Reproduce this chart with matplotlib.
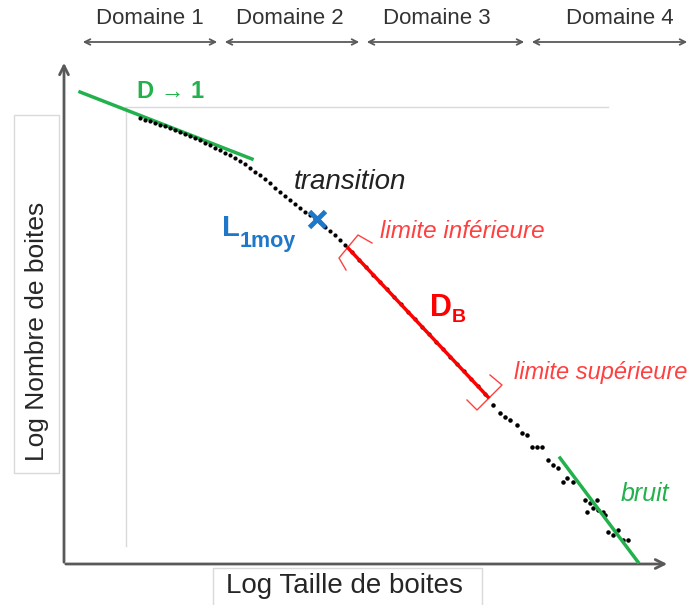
import matplotlib.pyplot as plt
from matplotlib.patches import Rectangle

plt.rcParams['font.family'] = ['Liberation Sans', 'DejaVu Sans']

# courbe de comptage (unites: pixels depuis l'origine des axes)
log_taille_1 = [76, 81, 86, 91, 96, 101, 106, 111, 116, 121, 126, 131, 136, 141,
                146, 151, 156, 161, 166, 171, 176, 181, 186, 191, 196, 201, 206,
                211, 216, 221, 226, 231, 236, 241, 246, 251, 256, 261, 266, 271,
                276, 281]
log_nombre_1 = [446, 444, 443, 441, 439, 438, 436, 434, 432, 430, 428, 426, 424, 421,
                419, 416, 414, 411, 409, 406, 403, 400, 396, 392, 389, 385, 381,
                376, 372, 368, 364, 360, 356, 352, 349, 345, 342, 337, 333, 329,
                324, 319]
log_taille_2 = [288, 295, 302, 309, 316, 323, 330, 337, 344, 351, 358, 365, 372,
                379, 386, 393, 400, 407, 414, 421]
log_nombre_2 = [312, 304, 297, 289, 282, 275, 267, 260, 252, 245, 237, 230, 222,
                215, 207, 200, 193, 185, 178, 170]
log_taille_3 = [429, 436, 441, 446, 453, 458, 463, 468, 473, 478, 484, 489, 494,
                499, 503, 509, 521, 526, 533, 529, 523, 534, 539, 541, 544, 549,
                554, 559, 564]
log_nombre_3 = [159, 151, 147, 144, 139, 131, 129, 117, 117, 117, 104, 99, 96,
                82, 86, 82, 64, 61, 64, 56, 52, 54, 52, 49, 32, 29, 34, 24, 24]

# droites d'ajustement
fit_d1_x = [16, 188]
fit_d1_y = [472, 405]
fit_db_x = [284, 424]
fit_db_y = [316, 167]
fit_bruit_x = [496, 574]
fit_bruit_y = [106, 2]
l1moy_x = [253]
l1moy_y = [345]

domaines = ['Domaine 1', 'Domaine 2', 'Domaine 3', 'Domaine 4']
dom_bornes = [(16, 156), (158, 298), (300, 463), (465, 626)]
dom_centres = [86, 226, 373, 556]

green = '#22b14c'
red = '#ff0000'
red_txt = '#ff4040'
blue = '#1f77c9'
gray = '#595959'

fig = plt.figure(figsize=(6.98, 6.05), dpi=100)
ax = fig.add_axes([0, 0, 1, 1])
ax.set_xlim(-64, 634)
ax.set_ylim(-41, 564)
ax.axis('off')

# lignes de repere
ax.plot([61, 544], [457, 457], color='#d9d9d9', lw=1)
ax.plot([62, 62], [457, 18], color='#d9d9d9', lw=1)

# axes
ax.annotate('', xy=(0, 504), xytext=(0, -1),
            arrowprops=dict(arrowstyle='->', color=gray, lw=2, mutation_scale=16))
ax.annotate('', xy=(606, 0), xytext=(-1, 0),
            arrowprops=dict(arrowstyle='->', color=gray, lw=2, mutation_scale=16))

# points
ax.scatter(log_taille_1, log_nombre_1, s=4, color='black', zorder=3)
ax.scatter(log_taille_2, log_nombre_2, s=4, color='black', zorder=3)
ax.scatter(log_taille_3, log_nombre_3, s=5, color='black', zorder=3)

ax.plot(fit_d1_x, fit_d1_y, color=green, lw=2.5, zorder=2)
ax.plot(fit_db_x, fit_db_y, color=red, lw=2.5, zorder=4)
ax.plot(fit_bruit_x, fit_bruit_y, color=green, lw=2.5, zorder=4)
ax.plot(l1moy_x, l1moy_y, 'x', color=blue, ms=11, mew=3.5, zorder=5)

# crochets des limites
ax.plot([282, 275, 294, 308], [294, 306, 329, 321], color=red_txt, lw=1)
ax.plot([403, 413, 438, 426], [164, 154, 179, 189], color=red_txt, lw=1)

# domaines
for nom, (a, b), c in zip(domaines, dom_bornes, dom_centres):
    ax.annotate('', xy=(a, 522), xytext=(b, 522),
                arrowprops=dict(arrowstyle='<->', color=gray, lw=1.3, mutation_scale=10))
    ax.text(c, 545, nom, ha='center', va='center', fontsize=16, color='#333333')

# textes
ax.text(73, 472, 'D \u2192 1', color=green, fontsize=17, fontweight='bold',
        ha='left', va='center')
ax.text(230, 382, 'transition', color='#222222', fontsize=20, style='italic',
        ha='left', va='center')
ax.text(158, 336, 'L', color=blue, fontsize=21, fontweight='bold', ha='left', va='center')
ax.text(176, 322, '1moy', color=blue, fontsize=15.5, fontweight='bold', ha='left', va='center')
ax.text(316, 332, 'limite inférieure', color=red_txt, fontsize=17.5, style='italic',
        ha='left', va='center')
ax.text(366, 256, 'D', color=red, fontsize=22, fontweight='bold', ha='left', va='center')
ax.text(388, 246, 'B', color=red, fontsize=14, fontweight='bold', ha='left', va='center')
ax.text(450, 192, 'limite supérieure', color=red_txt, fontsize=17, style='italic',
        ha='left', va='center')
ax.text(581, 70, 'bruit', color=green, fontsize=18, style='italic',
        ha='center', va='center')

# libelles des axes dans des cadres
ax.add_patch(Rectangle((-50, 91), 45, 358, fill=False, ec='#d9d9d9', lw=1))
ax.text(-27, 233, 'Log Nombre de boites', rotation=90, fontsize=19,
        ha='center', va='center', color='#262626')
ax.add_patch(Rectangle((149, -45), 269, 41, fill=False, ec='#d9d9d9', lw=1))
ax.text(280, -22, 'Log Taille de boites', fontsize=20, ha='center', va='center',
        color='#262626')

fig.savefig('out.png', dpi=100)
